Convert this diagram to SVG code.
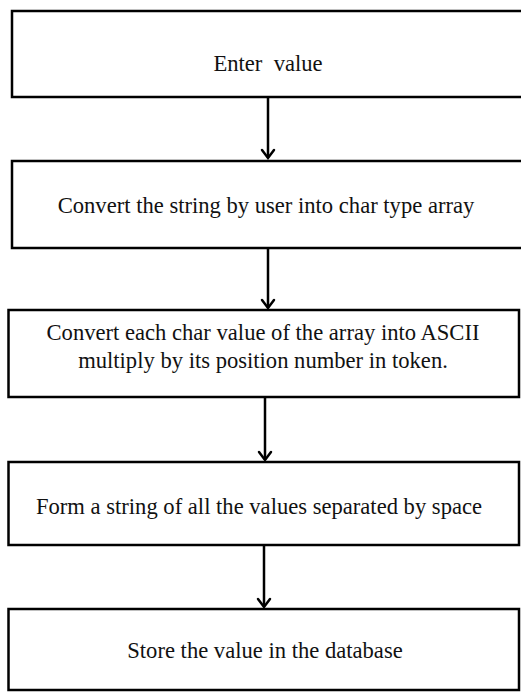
<svg xmlns="http://www.w3.org/2000/svg" width="521" height="693" viewBox="0 0 521 693">
<style>
.box{fill:#fff;stroke:#000;stroke-width:2.5}
.t{font-family:"Liberation Serif","Times New Roman",serif;font-size:22.6px;fill:#111;text-anchor:middle;white-space:pre}
.c{stroke:#000;stroke-width:2.5;fill:none}
.h{stroke:#000;stroke-width:2.5;fill:none;stroke-linecap:round;stroke-linejoin:miter}
</style>
<rect width="521" height="693" fill="#fff"/>
<g id="n1"><rect class="box" x="12" y="11" width="520" height="86"/><text class="t" x="268" y="71" xml:space="preserve">Enter  value</text></g>
<g id="n2"><rect class="box" x="12" y="161" width="520" height="87"/><text class="t" x="266" y="213">Convert the string by user into char type array</text></g>
<g id="n3"><rect class="box" x="8.5" y="310" width="510.5" height="87"/><text class="t" x="263" y="340">Convert each char value of the array into ASCII</text><text class="t" x="263" y="368">multiply by its position number in token.</text></g>
<g id="n4"><rect class="box" x="8.5" y="462" width="510.5" height="83"/><text class="t" x="259" y="514">Form a string of all the values separated by space</text></g>
<g id="n5"><rect class="box" x="8.5" y="609" width="510.5" height="81"/><text class="t" x="265" y="658">Store the value in the database</text></g>
<g id="connectors">
<line class="c" x1="268" y1="97" x2="268" y2="158"/><polyline class="h" points="262,150 268,158 274,150"/>
<line class="c" x1="268" y1="248" x2="268" y2="308"/><polyline class="h" points="262,300 268,308 274,300"/>
<line class="c" x1="265" y1="397" x2="265" y2="460"/><polyline class="h" points="259,452 265,460 271,452"/>
<line class="c" x1="264" y1="545" x2="264" y2="607"/><polyline class="h" points="258,599 264,607 270,599"/>
</g>
</svg>
